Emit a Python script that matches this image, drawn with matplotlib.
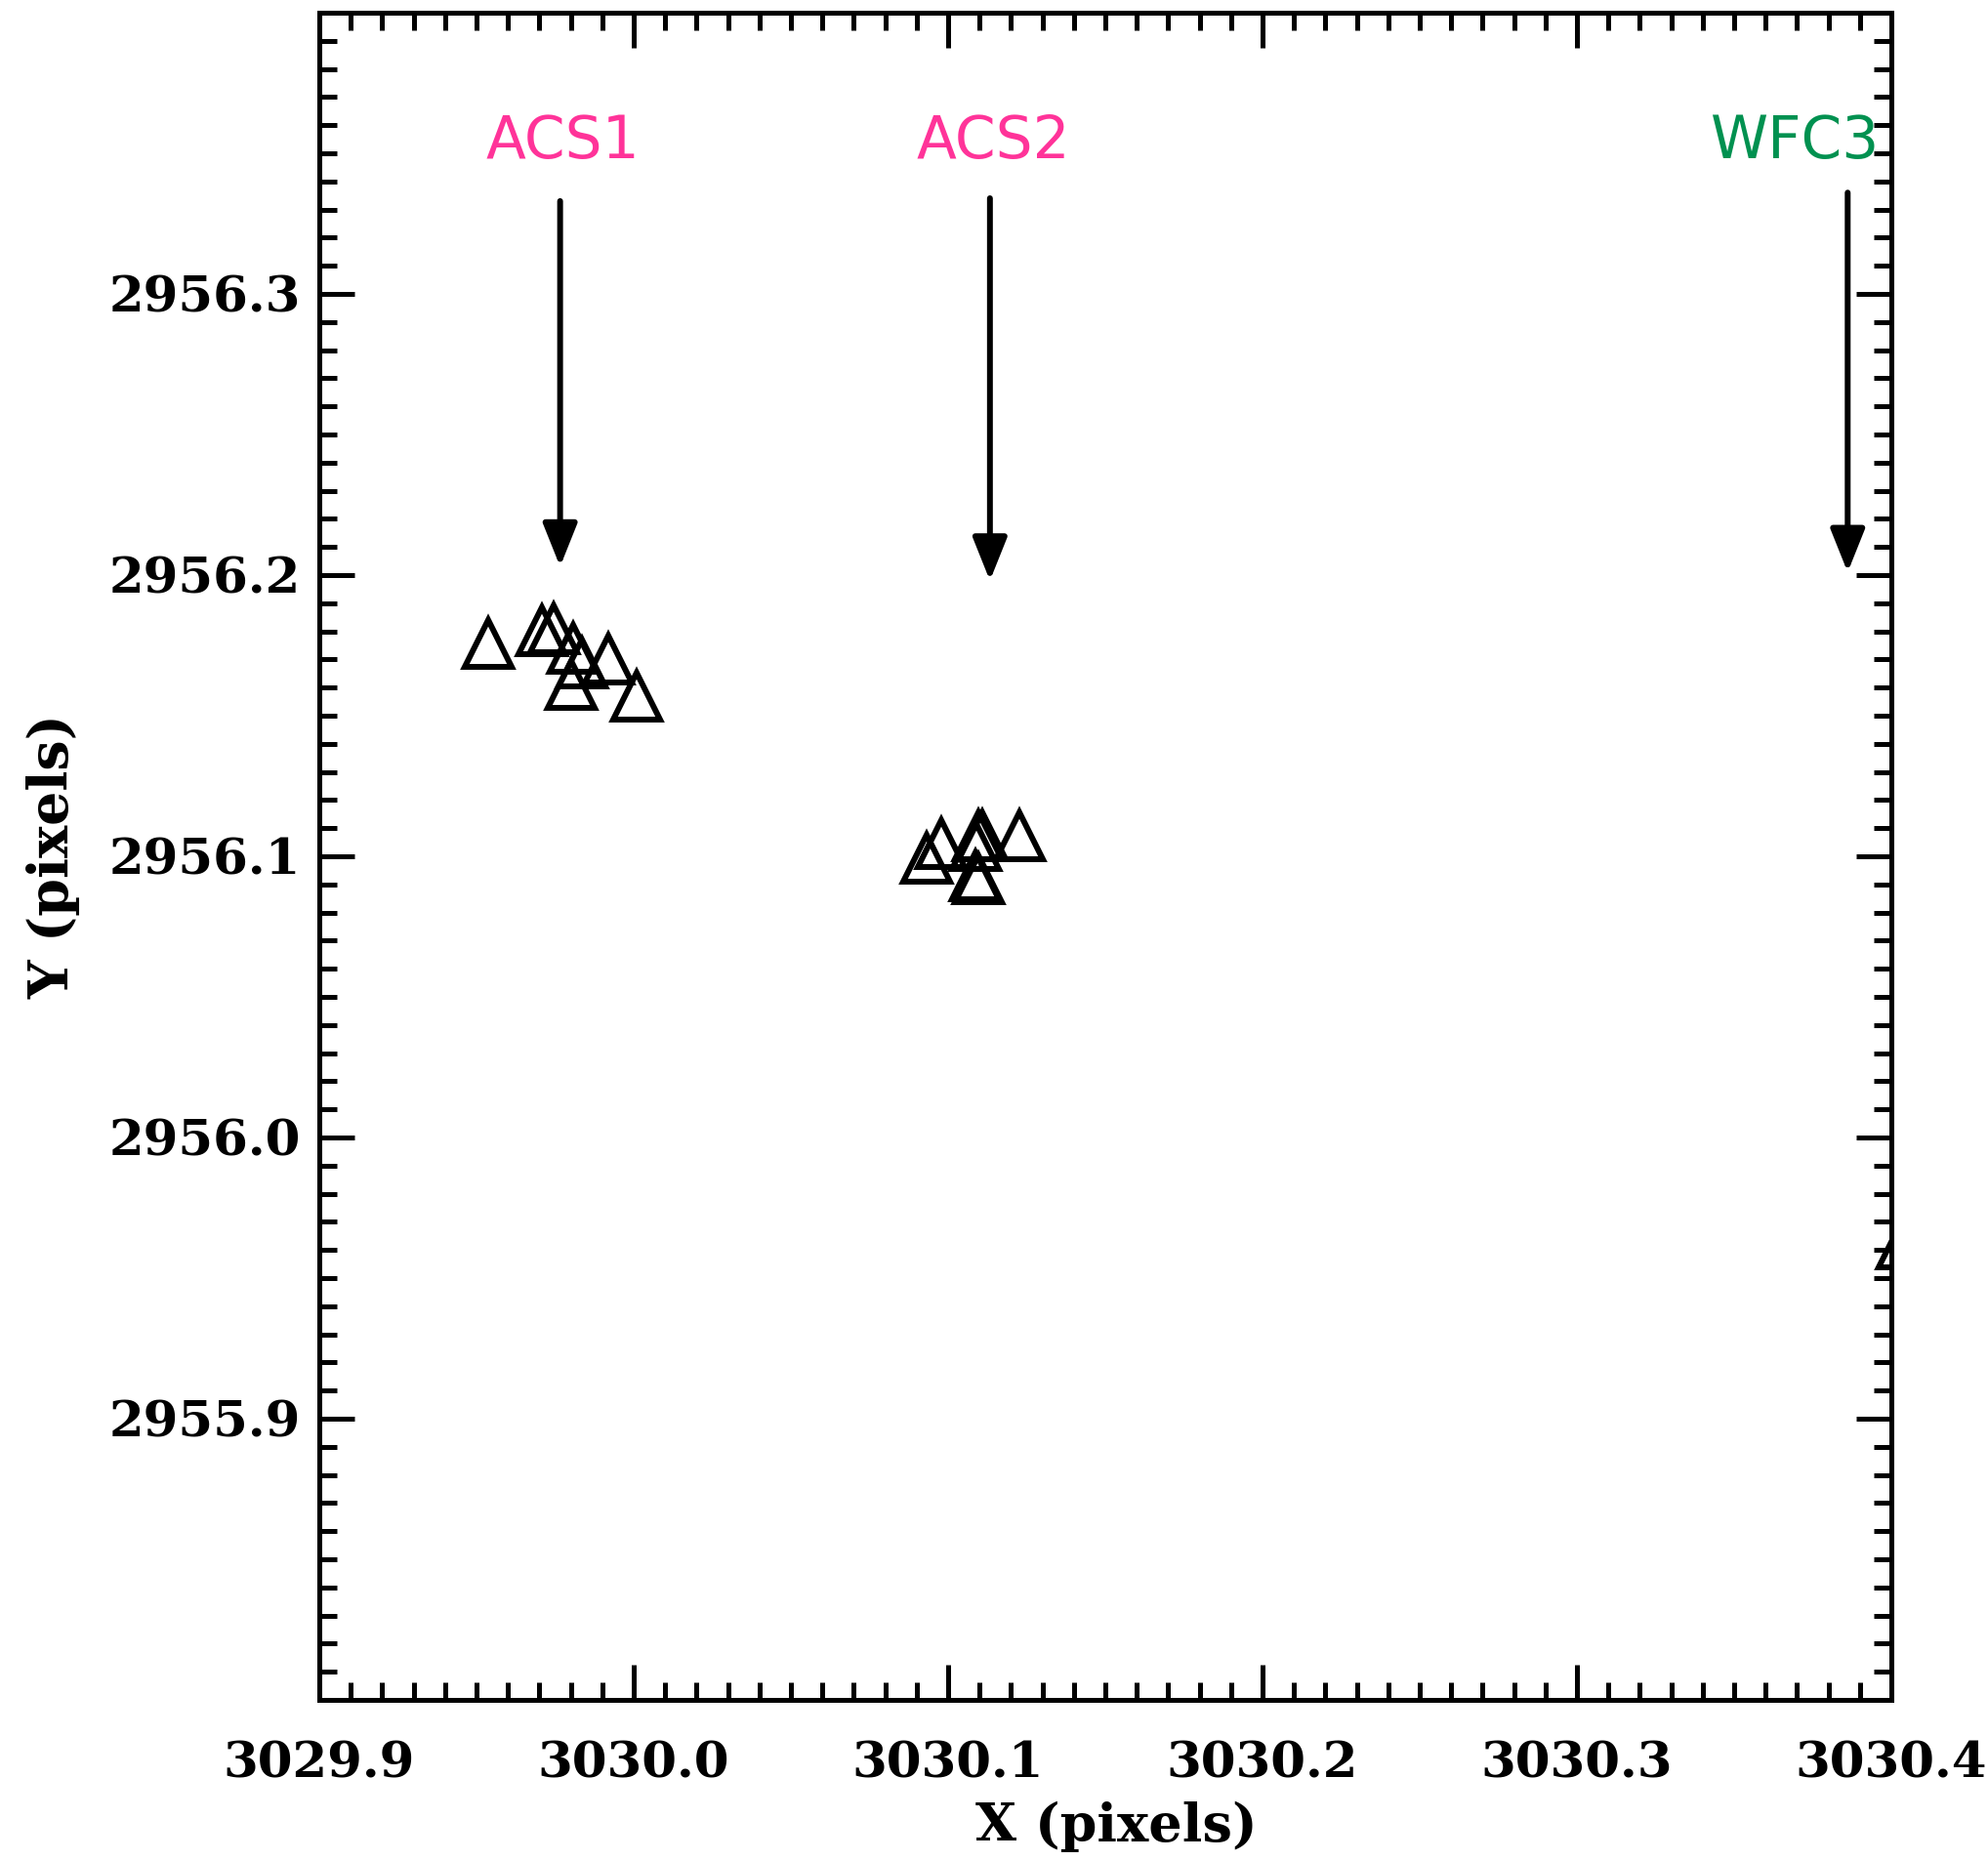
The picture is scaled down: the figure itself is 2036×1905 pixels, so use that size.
import matplotlib
matplotlib.use('Agg')
import matplotlib.pyplot as plt
from matplotlib.ticker import MultipleLocator, FixedLocator

# measured positions (pixels)
acs1_x = [3029.9538, 3029.9709, 3029.9745, 3029.9808, 3029.9836, 3029.9918, 3029.9800, 3030.0010]
acs1_y = [2956.1758, 2956.1802, 2956.1808, 2956.1741, 2956.1688, 2956.1701, 2956.1610, 2956.1569]

acs2_x = [3030.0978, 3030.0933, 3030.1095, 3030.1109, 3030.1226, 3030.1086, 3030.1096, 3030.1086]
acs2_y = [2956.1046, 2956.0994, 2956.1074, 2956.1074, 2956.1072, 2956.0930, 2956.0919, 2956.1037]

wfc3_x = [3030.4034]
wfc3_y = [2955.9623]

# arrow labels: name, colour, x, arrow start y, arrow tip y
labels = ['ACS1', 'ACS2', 'WFC3']
label_colors = ['#ff3399', '#ff3399', '#009150']
arrow_x = [3029.9766, 3030.1133, 3030.3861]
arrow_y0 = [2956.333, 2956.334, 2956.336]
arrow_y1 = [2956.203, 2956.198, 2956.201]
label_x = [3029.9776, 3030.1143, 3030.3690]
label_y = 2956.354

y_ticks = [2955.9, 2956.0, 2956.1, 2956.2, 2956.3]

fig = plt.figure(figsize=(20.36, 19.05), dpi=100)
ax = fig.add_axes([0.1606, 0.0861, 0.7908, 0.9071])

for xs, ys in [(acs1_x, acs1_y), (acs2_x, acs2_y), (wfc3_x, wfc3_y)]:
    ax.plot(xs, ys, linestyle='none', marker='^', markersize=34,
            markerfacecolor='none', markeredgecolor='black', markeredgewidth=4.3)

for i in range(len(labels)):
    ax.annotate('', xy=(arrow_x[i], arrow_y1[i]), xytext=(arrow_x[i], arrow_y0[i]),
                arrowprops=dict(arrowstyle='-|>,head_length=0.45,head_width=0.18',
                                mutation_scale=60, lw=4.3, color='black',
                                shrinkA=0, shrinkB=0))
    ax.text(label_x[i], label_y, labels[i], color=label_colors[i], fontsize=43,
            family='DejaVu Sans', ha='center', va='center')

ax.set_xlim(3029.9, 3030.4)
ax.set_ylim(2955.8, 2956.4)
ax.xaxis.set_major_locator(MultipleLocator(0.1))
ax.xaxis.set_minor_locator(MultipleLocator(0.01))
ax.yaxis.set_major_locator(FixedLocator(y_ticks))
ax.yaxis.set_minor_locator(MultipleLocator(0.01))
ax.xaxis.set_major_formatter(plt.FormatStrFormatter('%.1f'))
ax.yaxis.set_major_formatter(plt.FormatStrFormatter('%.1f'))

ax.tick_params(which='both', direction='in', top=True, right=True, width=3.6)
ax.tick_params(which='major', length=26)
ax.tick_params(which='minor', length=13)
ax.tick_params(axis='x', which='major', pad=30)
ax.tick_params(axis='y', which='major', pad=14)
for lab in ax.get_xticklabels() + ax.get_yticklabels():
    lab.set_fontsize(37)
    lab.set_fontweight('bold')
    lab.set_family('DejaVu Serif')
for sp in ax.spines.values():
    sp.set_linewidth(3.6)

ax.set_xlabel('X (pixels)', fontsize=39, fontweight='bold', family='DejaVu Serif')
ax.set_ylabel('Y (pixels)', fontsize=40, fontweight='bold', family='DejaVu Serif')
ax.xaxis.set_label_coords(0.507, -0.060)
ax.yaxis.set_label_coords(-0.152, 0.5)

fig.savefig('out.png', dpi=100)
